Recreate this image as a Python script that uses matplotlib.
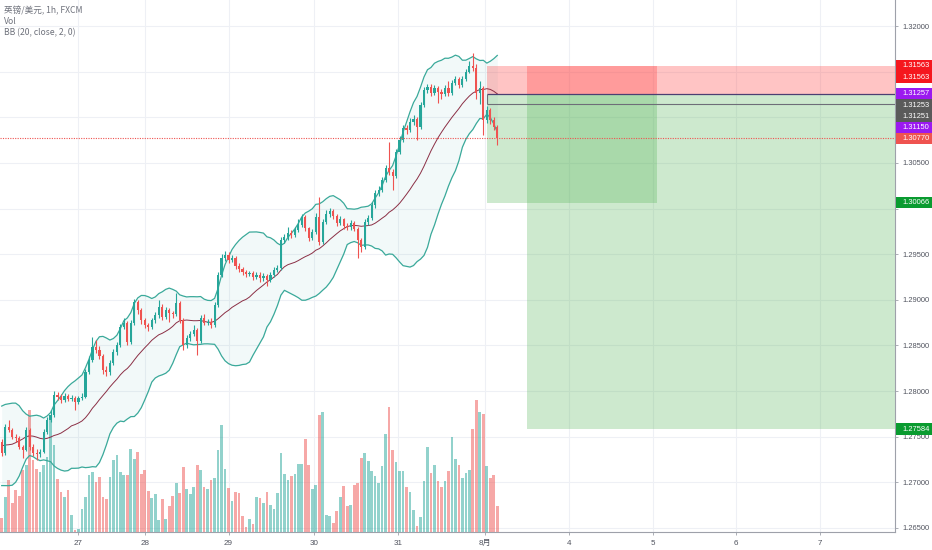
import numpy as np
import pandas as pd
import matplotlib
matplotlib.use("Agg")
import matplotlib.pyplot as plt
from matplotlib.patches import Rectangle
from matplotlib.transforms import IdentityTransform
from matplotlib.ticker import FormatStrFormatter

plt.rcParams['font.family'] = ['Liberation Sans', 'Noto Sans CJK SC', 'DejaVu Sans']

# ---------------- data (GBP/USD 1h, FXCM) ----------------
# closes of the 19 hours before the first visible bar (needed for BB(20))
pre_closes = [1.27430, 1.27510, 1.27380, 1.27150, 1.27000, 1.26940, 1.27060, 1.27210, 1.27390, 1.27520,
              1.27610, 1.27680, 1.27550, 1.27470, 1.27600, 1.27720, 1.27580, 1.27460, 1.27420]
first_open = 1.27442

closes = [1.27322, 1.27607, 1.27574, 1.27497, 1.27486, 1.27388, 1.27355, 1.27574, 1.27388, 1.27322,
          1.27310, 1.27333, 1.27552, 1.27683, 1.27738, 1.27957, 1.27935, 1.27902, 1.27946, 1.27913,
          1.27924, 1.27881, 1.27924, 1.27935, 1.28209, 1.28341, 1.28483, 1.28450, 1.28385, 1.28231,
          1.28209, 1.28308, 1.28428, 1.28505, 1.28702, 1.28746, 1.28538, 1.28746, 1.28976, 1.28888,
          1.28779, 1.28724, 1.28702, 1.28779, 1.28834, 1.28921, 1.28812, 1.28888, 1.28856, 1.28845,
          1.28965, 1.28779, 1.28505, 1.28582, 1.28626, 1.28669, 1.28549, 1.28801, 1.28746, 1.28757,
          1.28724, 1.28943, 1.29272, 1.29458, 1.29491, 1.29436, 1.29458, 1.29371, 1.29338, 1.29305,
          1.29283, 1.29294, 1.29250, 1.29272, 1.29239, 1.29261, 1.29217, 1.29272, 1.29327, 1.29349,
          1.29655, 1.29688, 1.29732, 1.29710, 1.29765, 1.29820, 1.29907, 1.29787, 1.29677, 1.29743,
          1.29907, 1.29633, 1.29853, 1.29940, 1.29973, 1.29918, 1.29842, 1.29886, 1.29809, 1.29798,
          1.29842, 1.29776, 1.29655, 1.29579, 1.29853, 1.29896, 1.30039, 1.30170, 1.30203, 1.30313,
          1.30444, 1.30400, 1.30357, 1.30620, 1.30751, 1.30882, 1.30860, 1.30948, 1.30981, 1.30893,
          1.31134, 1.31299, 1.31332, 1.31266, 1.31321, 1.31277, 1.31250, 1.31321, 1.31266, 1.31376,
          1.31419, 1.31354, 1.31419, 1.31496, 1.31562, 1.31540, 1.31266, 1.31321, 1.30970, 1.31080,
          1.30970, 1.30893, 1.30770]

highs = [1.27480, 1.27640, 1.27683, 1.27600, 1.27530, 1.27510, 1.27410, 1.27610, 1.27600, 1.27420,
         1.27360, 1.27370, 1.27580, 1.27720, 1.27790, 1.28000, 1.27990, 1.27970, 1.27980, 1.27970,
         1.27960, 1.27950, 1.27950, 1.27980, 1.28240, 1.28380, 1.28593, 1.28560, 1.28490, 1.28410,
         1.28270, 1.28340, 1.28460, 1.28540, 1.28740, 1.28800, 1.28770, 1.28780, 1.29010, 1.29000,
         1.28910, 1.28800, 1.28750, 1.28800, 1.28870, 1.29000, 1.28950, 1.28920, 1.28910, 1.28880,
         1.29075, 1.28990, 1.28800, 1.28610, 1.28660, 1.28720, 1.28690, 1.28830, 1.28850, 1.28790,
         1.28800, 1.28980, 1.29300, 1.29500, 1.29530, 1.29520, 1.29490, 1.29480, 1.29400, 1.29360,
         1.29330, 1.29320, 1.29320, 1.29300, 1.29300, 1.29290, 1.29280, 1.29300, 1.29360, 1.29380,
         1.29690, 1.29720, 1.29800, 1.29770, 1.29800, 1.29880, 1.29940, 1.29930, 1.29800, 1.29780,
         1.29950, 1.30127, 1.29880, 1.29980, 1.30010, 1.30000, 1.29940, 1.29920, 1.29900, 1.29840,
         1.29870, 1.29860, 1.29800, 1.29680, 1.29880, 1.29930, 1.30070, 1.30200, 1.30250, 1.30350,
         1.30480, 1.30729, 1.30430, 1.30650, 1.30790, 1.30920, 1.30910, 1.30990, 1.31020, 1.31000,
         1.31170, 1.31330, 1.31370, 1.31360, 1.31350, 1.31340, 1.31310, 1.31350, 1.31400, 1.31410,
         1.31450, 1.31440, 1.31450, 1.31530, 1.31620, 1.31704, 1.31580, 1.31400, 1.31340, 1.31120,
         1.31100, 1.31000, 1.30920]

lows = [1.27290, 1.27300, 1.27550, 1.27470, 1.27440, 1.27360, 1.27267, 1.27340, 1.27350, 1.27290,
        1.27250, 1.27280, 1.27320, 1.27530, 1.27660, 1.27720, 1.27900, 1.27870, 1.27880, 1.27890,
        1.27890, 1.27793, 1.27860, 1.27900, 1.27920, 1.28190, 1.28320, 1.28420, 1.28350, 1.28190,
        1.28160, 1.28180, 1.28290, 1.28400, 1.28480, 1.28680, 1.28500, 1.28520, 1.28720, 1.28850,
        1.28740, 1.28690, 1.28660, 1.28680, 1.28750, 1.28800, 1.28780, 1.28790, 1.28760, 1.28800,
        1.28820, 1.28750, 1.28450, 1.28470, 1.28550, 1.28600, 1.28396, 1.28530, 1.28720, 1.28720,
        1.28690, 1.28700, 1.28920, 1.29250, 1.29420, 1.29400, 1.29410, 1.29340, 1.29300, 1.29270,
        1.29250, 1.29260, 1.29220, 1.29230, 1.29200, 1.29210, 1.29150, 1.29200, 1.29250, 1.29300,
        1.29330, 1.29620, 1.29660, 1.29680, 1.29690, 1.29740, 1.29800, 1.29750, 1.29640, 1.29650,
        1.29720, 1.29600, 1.29610, 1.29830, 1.29910, 1.29890, 1.29810, 1.29820, 1.29780, 1.29760,
        1.29770, 1.29750, 1.29458, 1.29520, 1.29560, 1.29820, 1.29870, 1.30010, 1.30140, 1.30180,
        1.30290, 1.30370, 1.30203, 1.30330, 1.30600, 1.30730, 1.30820, 1.30840, 1.30920, 1.30751,
        1.30870, 1.31110, 1.31270, 1.31230, 1.31240, 1.31156, 1.31200, 1.31230, 1.31230, 1.31240,
        1.31350, 1.31320, 1.31330, 1.31400, 1.31480, 1.31510, 1.31200, 1.31150, 1.30806, 1.30940,
        1.30930, 1.30860, 1.30696]

volumes = [14, 35, 52, 29, 42, 36, 62, 67, 122, 72, 63, 60, 67, 75, 117, 87, 53, 40, 35, 42,
           17, 2, 3, 23, 35, 57, 60, 50, 55, 35, 33, 55, 72, 77, 60, 57, 57, 83, 73, 80,
           58, 62, 41, 34, 38, 12, 33, 13, 26, 36, 49, 39, 65, 43, 38, 45, 67, 62, 45, 43,
           52, 54, 82, 107, 63, 44, 31, 40, 39, 16, 5, 13, 8, 35, 34, 29, 40, 27, 23, 39,
           79, 58, 52, 56, 58, 68, 68, 93, 67, 43, 47,
           117, 120, 17, 16, 9, 21, 35, 46, 26, 27, 47, 49, 74, 79, 71, 61, 56, 49, 66, 98,
           125, 82, 70, 61, 61, 45, 40, 22, 6, 15, 51, 85, 59, 67, 51, 45, 51, 61, 95, 73,
           67, 54, 59, 62, 103, 132, 120, 118, 66, 54, 57, 26]

date_ticks = [22, 41, 65, 89.5, 113.5, 138.5, 162.5, 186.5, 210.5, 234.5]
date_labels = ["27", "28", "29", "30", "31", "8月", "4", "5", "6", "7"]
price_ticks = [1.265, 1.270, 1.275, 1.280, 1.285, 1.290, 1.295, 1.300, 1.305, 1.310, 1.315, 1.320]

# short position tools: start bar, end bar, entry, stop, target
pos_start = [139.0, 150.5]
pos_end = [187.8, 262.0]
pos_entry = [1.31257, 1.31257]
pos_stop = [1.31563, 1.31563]
pos_target = [1.30066, 1.27584]
level_lines = [1.31257, 1.31150]
last_price = 1.30770

axis_label_prices = [1.31563, 1.31563, 1.31257, 1.31253, 1.31251, 1.31150, 1.30770, 1.30066, 1.27584]
axis_label_colors = ["#f5171e", "#f5171e", "#9b19f0", "#5a5a5a", "#5a5a5a", "#9b19f0",
                     "#ef5350", "#0a9b30", "#0a9b30"]

# ---------------- style ----------------
UP = "#26a69a"
DN = "#ef5350"
W, H = 932, 550

fig = plt.figure(figsize=(W / 100, H / 100), dpi=100)
fig.patch.set_facecolor("white")
rect = [0, 18 / H, 895 / W, 532 / H]
gax = fig.add_axes(rect)                 # grid layer (bottom)
vax = fig.add_axes(rect, sharex=gax)     # volume layer
ax = fig.add_axes(rect, sharex=gax, sharey=gax)  # price layer (top)
vax.patch.set_visible(False)
ax.patch.set_visible(False)

idx = np.arange(len(closes))
c = np.array(closes)
o = np.r_[first_open, c[:-1]]
up = c >= o
colors = np.where(up, UP, DN)

# volume
vax.bar(idx, volumes, width=0.78, color=colors, alpha=0.5, linewidth=0)
vax.set_ylim(0, max(volumes) * 4.03)
vax.axis("off")

# Bollinger bands
allc = pd.Series(pre_closes + closes)
n0 = len(pre_closes)
mid = allc.rolling(20).mean().to_numpy()[n0:]
sd = allc.rolling(20).std(ddof=0).to_numpy()[n0:]
upper = mid + 2 * sd
lower = mid - 2 * sd
ax.fill_between(idx, lower, upper, color="#26a69a", alpha=0.06, linewidth=0, zorder=1)
ax.plot(idx, upper, color="#3aa99a", lw=0.9, zorder=2)
ax.plot(idx, lower, color="#3aa99a", lw=0.9, zorder=2)
ax.plot(idx, mid, color="#8b2f45", lw=0.7, zorder=2)

# position tools
for s, e, en, st, tg in zip(pos_start, pos_end, pos_entry, pos_stop, pos_target):
    ax.add_patch(Rectangle((s, en), e - s, st - en, facecolor=(1.0, 0.24, 0.24), alpha=0.3,
                           linewidth=0, zorder=1.5))
    ax.add_patch(Rectangle((s, tg), e - s, en - tg, facecolor=(0.30, 0.69, 0.31), alpha=0.28,
                           linewidth=0, zorder=1.5))

# candles
ax.vlines(idx, lows, highs, colors=colors, lw=0.8, zorder=3)
ax.bar(idx, np.maximum(np.abs(c - o), 0.00004), bottom=np.minimum(o, c), width=0.62,
       color=colors, linewidth=0, zorder=4)

# level lines
ax.hlines(level_lines[0], pos_start[0], 300, color="#4b3f72", lw=0.9, zorder=5)
ax.hlines(level_lines[1], pos_start[0], 300, color="#6e6e78", lw=0.8, zorder=5)
ax.vlines(pos_start[0], level_lines[1], level_lines[0], color="#6e6e78", lw=0.8, zorder=5)
ax.axhline(last_price, color="#ef5350", lw=0.8, ls=(0, (1, 1.2)), zorder=5)

# axes
ax.set_xlim(-0.49, 255.96)
ax.set_ylim(1.26456, 1.32285)
ax.set_yticks(price_ticks)
ax.yaxis.set_major_formatter(FormatStrFormatter("%.5f"))
ax.yaxis.tick_right()
ax.set_xticks(date_ticks)
ax.set_xticklabels(date_labels)

gax.grid(True, color="#eef0f5", lw=0.8)
gax.tick_params(left=False, right=False, bottom=False, top=False,
                labelleft=False, labelright=False, labelbottom=False)
for sp in gax.spines.values():
    sp.set_visible(False)

for sp in ["top", "left"]:
    ax.spines[sp].set_visible(False)
for sp in ["right", "bottom"]:
    ax.spines[sp].set_color("#9ea1aa")
    ax.spines[sp].set_linewidth(0.8)
ax.tick_params(axis="y", length=2.5, width=0.6, color="#9ea1aa", pad=2.5,
               labelsize=5.4, labelcolor="#50535e")
ax.tick_params(axis="x", length=2.5, width=0.6, color="#9ea1aa", pad=3.5,
               labelsize=5.8, labelcolor="#50535e")

# legend texts
title_font = ["Noto Sans CJK SC", "DejaVu Sans"]
for k, t in enumerate(["英镑/美元, 1h, FXCM", "Vol", "BB (20, close, 2, 0)"]):
    fig.text(4 / W, 1 - (11 + 11 * k) / H, t, fontsize=6.2, color="#6f727c",
             va="center", ha="left", family=title_font)

# price labels on the right axis (stacked like the platform does)
prev = -1e9
boxes = []
order = np.argsort(axis_label_prices)[::-1]
for k in order:
    p = axis_label_prices[k]
    y_top = H - ax.transData.transform((0, p))[1]
    y_top = max(y_top, prev + 11.2)
    prev = y_top
    boxes.append((y_top - 5.6, y_top + 5.6))
    yd = H - y_top
    fig.add_artist(Rectangle((896, yd - 5.6), 40, 11.2, transform=IdentityTransform(),
                             facecolor=axis_label_colors[k], edgecolor="none", zorder=10))
    fig.text(902 / W, yd / H, f"{p:.5f}", fontsize=5.4, color="white", va="center",
             ha="left", zorder=11)

# tick labels whose centre sits under a price label are hidden, as on the platform
for tv, lab in zip(price_ticks, ax.yaxis.get_major_ticks()):
    yt = H - ax.transData.transform((0, tv))[1]
    if any(b0 - 0.5 <= yt <= b1 + 0.5 for b0, b1 in boxes):
        lab.label2.set_visible(False)

fig.savefig("out.png", dpi=100, facecolor="white")
